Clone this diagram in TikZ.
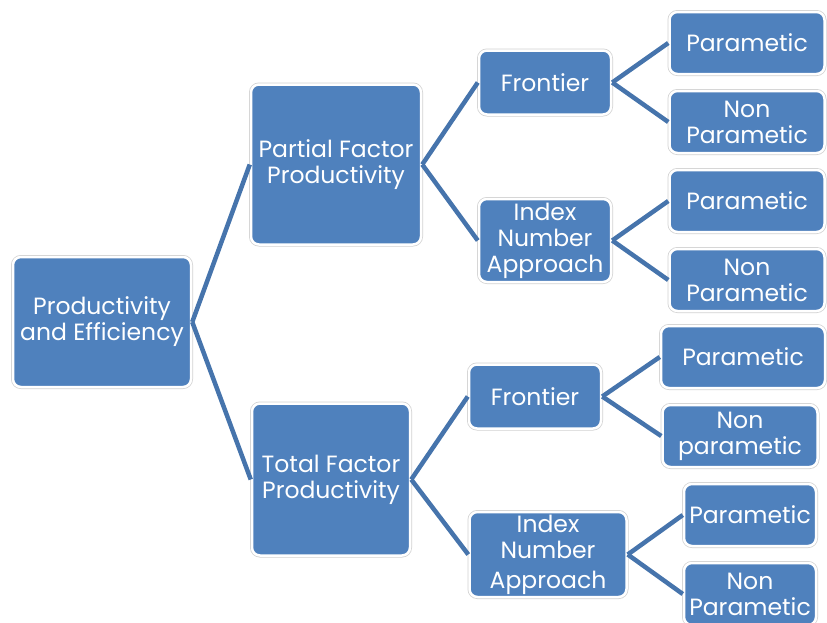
\documentclass[tikz,border=0pt]{standalone}
\usepackage{fontspec}
\setmainfont{Poppins}
\definecolor{boxblue}{RGB}{79,129,189}
\definecolor{lineblue}{RGB}{70,116,172}
\tikzset{
	box/.style={rectangle, rounded corners=8pt, fill=boxblue, draw=white, line width=2.5pt,
		preaction={draw=black!18, line width=4pt},
		text=white, align=center, inner sep=0pt,
		font=\fontsize{23.5}{26}\selectfont},
	leaf/.style={box, minimum width=155pt, minimum height=62pt},
	mid/.style={box, minimum width=132pt, minimum height=64pt}
}
\begin{document}
\begin{tikzpicture}[x=1pt, y=1pt,
		grow'=right,
		edge from parent/.style={draw=lineblue, line width=4.5pt},
		edge from parent path={(\tikzparentnode.east) -- (\tikzchildnode.west)},
		level 1/.style={level distance=234pt, sibling distance=315pt},
		level 2/.style={level distance=209pt, sibling distance=158pt},
		level 3/.style={level distance=202pt, sibling distance=79pt}
	]
	\useasboundingbox (0,0) rectangle (827,-622);
	\node[box, minimum width=178pt, minimum height=130pt] (root) at (102,-322) {Productivity\\and Efficiency}
	child {
			node[box, minimum width=170pt, minimum height=160pt] (pfp) {Partial Factor\\Productivity}
			child[yshift=3pt] {
					node[mid] (pfront) {Frontier}
					child {node[leaf] (pfpar) {Parametic}}
					child {node[leaf] (pfnon) {Non\\Parametic}}
				}
			child[yshift=3pt] {
					node[mid, minimum height=83pt] (pindex) {Index\\Number\\Approach}
					child {node[leaf] (pipar) {Parametic}}
					child {node[leaf] (pinon) {Non\\Parametic}}
				}
		}
	child[xshift=-5pt] {
			node[box, minimum width=158pt, minimum height=152pt] (tfp) {Total Factor\\Productivity}
			child[xshift=-5pt, yshift=4pt] {
					node[mid] (tfront) {Frontier}
					child[xshift=6pt] {node[leaf, minimum width=164pt] (tfpar) {Parametic}}
					child[xshift=3pt] {node[leaf] (tfnon) {Non\\parametic}}
				}
			child[xshift=8pt, yshift=4pt] {
					node[mid, minimum width=157pt, minimum height=85pt] (tindex) {Index\\Number\\[4pt]Approach}
					child {node[leaf, minimum width=132pt] (tipar) {Parametic}}
					child {node[leaf, minimum width=132pt] (tinon) {Non\\Parametic}}
				}
		};
\end{tikzpicture}
\end{document}
